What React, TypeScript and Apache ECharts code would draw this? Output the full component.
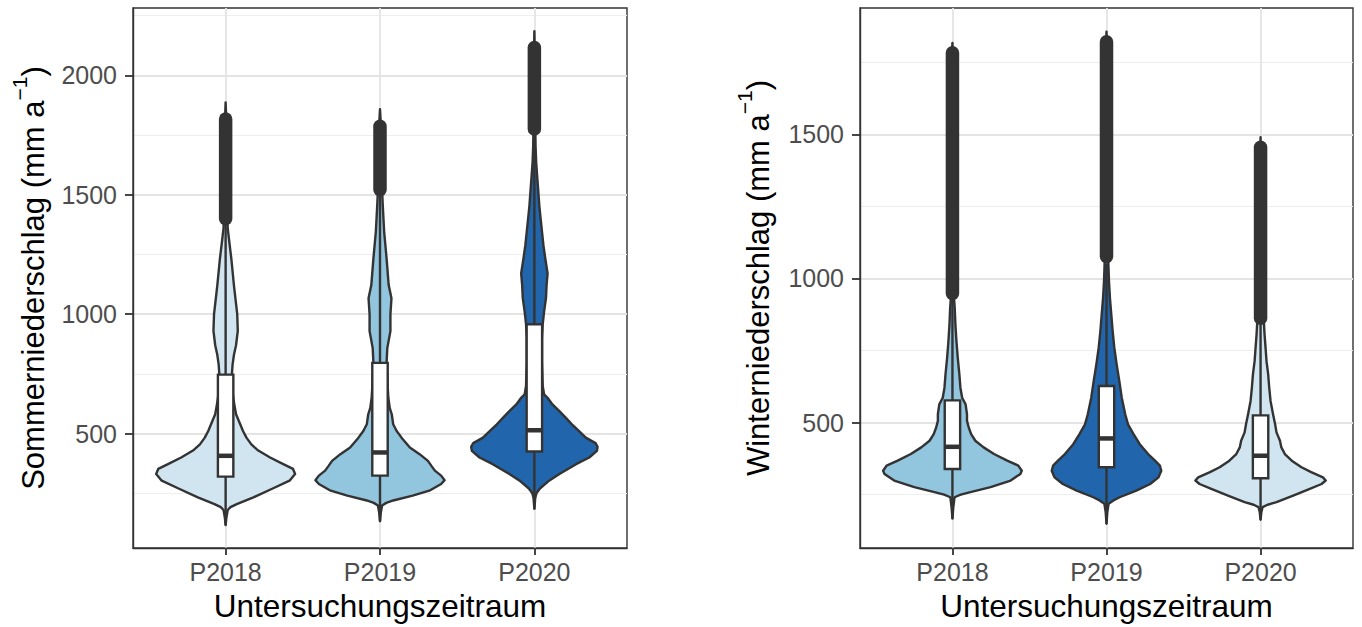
import React, { useEffect, useRef } from "react";
import * as echarts from "echarts";

// ---------------- data ----------------
const categories = ["P2018", "P2019", "P2020"];

// Sommerniederschlag (left panel)
const summerYMin = 21;
const summerYMax = 2282;
const summerTicks = [500, 1000, 1500, 2000];
const summerMinorTicks = [250, 750, 1250, 1750, 2250];
const summerQ1 = [320, 324, 425];
const summerMedian = [407, 421, 514];
const summerQ3 = [747, 796, 958];
const summerLowerWhisker = [117, 133, 185];
const summerUpperWhisker = [1390, 1505, 1760];
const summerOutlierLow = [1400, 1521, 1775];
const summerOutlierHigh = [1817, 1787, 2117];
// violin profiles: [value, relative half-width]
const summerViolin2018 = [[117, 0], [150, 0.012], [180, 0.03], [192, 0.07], [205, 0.16], [233, 0.4], [269, 0.67], [303, 0.92], [331, 1.0], [352, 0.97], [372, 0.83], [400, 0.64], [429, 0.47], [455, 0.37], [483, 0.3], [511, 0.25], [539, 0.21], [581, 0.15], [622, 0.125], [650, 0.11], [706, 0.09], [747, 0.09], [789, 0.1], [830, 0.12], [870, 0.15], [930, 0.175], [1000, 0.167], [1120, 0.12], [1230, 0.083], [1317, 0.047], [1360, 0.03], [1450, 0.018], [1600, 0.014], [1800, 0.011], [1887, 0]];
const summerViolin2019 = [[133, 0], [170, 0.012], [199, 0.03], [210, 0.09], [220, 0.19], [240, 0.47], [261, 0.71], [289, 0.88], [305, 0.93], [324, 0.88], [345, 0.79], [365, 0.74], [386, 0.69], [414, 0.57], [442, 0.43], [483, 0.31], [511, 0.24], [539, 0.19], [580, 0.17], [608, 0.14], [650, 0.12], [700, 0.11], [750, 0.1], [796, 0.095], [858, 0.105], [929, 0.15], [1000, 0.15], [1067, 0.165], [1122, 0.125], [1233, 0.095], [1345, 0.06], [1455, 0.04], [1520, 0.03], [1650, 0.017], [1800, 0.011], [1858, 0]];
const summerViolin2020 = [[185, 0], [230, 0.012], [250, 0.03], [270, 0.08], [300, 0.2], [331, 0.36], [372, 0.6], [400, 0.79], [428, 0.9], [445, 0.91], [460, 0.88], [483, 0.74], [511, 0.64], [539, 0.54], [567, 0.45], [594, 0.36], [622, 0.26], [650, 0.19], [664, 0.14], [700, 0.12], [800, 0.11], [900, 0.11], [958, 0.12], [1011, 0.14], [1067, 0.167], [1122, 0.176], [1171, 0.19], [1233, 0.157], [1289, 0.13], [1345, 0.11], [1400, 0.09], [1455, 0.071], [1511, 0.057], [1567, 0.043], [1636, 0.026], [1705, 0.017], [1800, 0.012], [2000, 0.01], [2185, 0]];

// Winterniederschlag (right panel)
const winterYMin = 65;
const winterYMax = 1938;
const winterTicks = [500, 1000, 1500];
const winterMinorTicks = [250, 750, 1250, 1750];
const winterQ1 = [339, 345, 307];
const winterMedian = [416, 445, 385];
const winterQ3 = [577, 627, 525];
const winterLowerWhisker = [167, 149, 163];
const winterUpperWhisker = [934, 1050, 852];
const winterOutlierLow = [948, 1076, 862];
const winterOutlierHigh = [1783, 1821, 1455];
const winterViolin2018 = [[167, 0], [205, 0.012], [241, 0.03], [250, 0.12], [259, 0.26], [276, 0.55], [299, 0.84], [322, 0.98], [333, 1.0], [351, 0.95], [368, 0.79], [391, 0.6], [414, 0.45], [437, 0.33], [460, 0.27], [483, 0.235], [506, 0.21], [529, 0.21], [563, 0.19], [586, 0.14], [621, 0.115], [667, 0.1], [724, 0.077], [782, 0.058], [839, 0.043], [897, 0.033], [925, 0.025], [1000, 0.018], [1200, 0.014], [1500, 0.011], [1780, 0.008], [1817, 0]];
const winterViolin2019 = [[149, 0], [190, 0.012], [218, 0.03], [230, 0.1], [241, 0.19], [264, 0.43], [287, 0.63], [310, 0.75], [333, 0.79], [351, 0.77], [368, 0.7], [391, 0.6], [425, 0.48], [460, 0.39], [494, 0.31], [529, 0.27], [586, 0.22], [644, 0.185], [701, 0.147], [759, 0.113], [816, 0.089], [873, 0.07], [931, 0.05], [989, 0.036], [1046, 0.028], [1200, 0.016], [1500, 0.012], [1800, 0.008], [1856, 0]];
const winterViolin2020 = [[163, 0], [190, 0.012], [207, 0.03], [215, 0.1], [224, 0.23], [247, 0.47], [270, 0.71], [287, 0.88], [299, 0.94], [310, 0.9], [328, 0.73], [345, 0.59], [368, 0.45], [391, 0.35], [414, 0.3], [437, 0.28], [466, 0.23], [494, 0.21], [529, 0.18], [575, 0.144], [621, 0.125], [667, 0.11], [713, 0.086], [759, 0.072], [804, 0.058], [839, 0.05], [900, 0.035], [1100, 0.02], [1300, 0.013], [1490, 0]];

const summerColors = ["#d1e5f0", "#92c5de", "#2166ac"];
const winterColors = ["#92c5de", "#2166ac", "#d1e5f0"];

// ---------------- styling ----------------
const FONT = "'Liberation Sans', Arial, Helvetica, sans-serif";
const OUTLINE = "#333333";
const HALF = 0.45;
const BOX_HALF = 0.05;
const LW = 2.4;

type Stats = {
  profiles: number[][][];
  q1: number[];
  med: number[];
  q3: number[];
  lw: number[];
  uw: number[];
  olo: number[];
  ohi: number[];
  colors: string[];
};

function makeRenderer(s: Stats) {
  return (params: any, api: any) => {
    const i = api.value(0);
    const prof = s.profiles[i];
    const pts: number[][] = [];
    for (const [v, w] of prof) pts.push(api.coord([i + w * HALF, v]));
    for (let k = prof.length - 1; k >= 0; k--) {
      const [v, w] = prof[k];
      pts.push(api.coord([i - w * HALF, v]));
    }
    const cx = api.coord([i, s.med[i]])[0];
    const y = (v: number) => api.coord([i, v])[1];
    const bl = api.coord([i - BOX_HALF, s.med[i]])[0];
    const br = api.coord([i + BOX_HALF, s.med[i]])[0];
    return {
      type: "group",
      children: [
        {
          type: "polygon",
          shape: { points: pts },
          style: { fill: s.colors[i], stroke: OUTLINE, lineWidth: LW, lineJoin: "round" },
        },
        {
          type: "line",
          shape: { x1: cx, y1: y(s.lw[i]), x2: cx, y2: y(s.q1[i]) },
          style: { stroke: OUTLINE, lineWidth: LW },
        },
        {
          type: "line",
          shape: { x1: cx, y1: y(s.q3[i]), x2: cx, y2: y(s.uw[i]) },
          style: { stroke: OUTLINE, lineWidth: LW },
        },
        {
          type: "rect",
          shape: { x: bl, y: y(s.q3[i]), width: br - bl, height: y(s.q1[i]) - y(s.q3[i]) },
          style: { fill: "#ffffff", stroke: OUTLINE, lineWidth: LW },
        },
        {
          type: "line",
          shape: { x1: bl, y1: y(s.med[i]), x2: br, y2: y(s.med[i]) },
          style: { stroke: OUTLINE, lineWidth: 4.5 },
        },
        {
          type: "line",
          shape: { x1: cx, y1: y(s.olo[i]), x2: cx, y2: y(s.ohi[i]) },
          style: { stroke: OUTLINE, lineWidth: 13.5, lineCap: "round" },
        },
      ],
    };
  };
}

const majorGrid = { show: true, lineStyle: { color: "#e4e4e4", width: 1.8 } };
const minorGrid = { show: true, lineStyle: { color: "#eeeeee", width: 1.1 } };
const catIdx = categories.map((_, i) => i);

function xAxisCfg(gridIndex: number) {
  return {
    gridIndex,
    type: "value",
    min: -0.6,
    max: 2.6,
    axisLine: { show: true, lineStyle: { color: OUTLINE, width: 1.4 } },
    axisTick: { show: true, customValues: catIdx, length: 7, lineStyle: { color: OUTLINE, width: 1.8 } },
    axisLabel: {
      customValues: catIdx,
      formatter: (v: number) => categories[Math.round(v)],
      margin: 11,
      fontSize: 25,
      fontFamily: FONT,
      color: "#4d4d4d",
    },
    splitLine: majorGrid,
    name: "Untersuchungszeitraum",
    nameLocation: "middle",
    nameGap: 42,
    nameTextStyle: { fontSize: 31.5, fontFamily: FONT, color: "#000000" },
  };
}

function yTitle(word: string) {
  return "{t|" + word + " (mm a}{s|\u22121}{t|)}";
}

function yAxisMain(gridIndex: number, min: number, max: number, ticks: number[], title: string, gap: number) {
  return {
    gridIndex,
    type: "value",
    min,
    max,
    position: "left",
    axisLine: { show: true, lineStyle: { color: OUTLINE, width: 1.4 } },
    axisTick: { show: true, customValues: ticks, length: 8, lineStyle: { color: OUTLINE, width: 1.8 } },
    axisLabel: {
      customValues: ticks,
      formatter: (v: number) => String(v),
      margin: 16,
      fontSize: 25,
      fontFamily: FONT,
      color: "#4d4d4d",
    },
    splitLine: majorGrid,
    name: yTitle(title),
    nameLocation: "middle",
    nameRotate: 90,
    nameGap: gap,
    nameTextStyle: {
      fontSize: 31,
      fontFamily: FONT,
      color: "#000000",
      rich: {
        t: { fontSize: 31, fontFamily: FONT, color: "#000000", lineHeight: 40, verticalAlign: "bottom" },
        s: { fontSize: 21, fontFamily: FONT, color: "#000000", lineHeight: 21, verticalAlign: "top" },
      },
    },
  };
}

function yAxisMinor(gridIndex: number, min: number, max: number, ticks: number[]) {
  return {
    gridIndex,
    type: "value",
    min,
    max,
    position: "left",
    axisLine: { show: false },
    axisTick: { show: false, customValues: ticks },
    axisLabel: { show: false, customValues: ticks },
    splitLine: minorGrid,
  };
}

const summerStats: Stats = {
  profiles: [summerViolin2018, summerViolin2019, summerViolin2020],
  q1: summerQ1,
  med: summerMedian,
  q3: summerQ3,
  lw: summerLowerWhisker,
  uw: summerUpperWhisker,
  olo: summerOutlierLow,
  ohi: summerOutlierHigh,
  colors: summerColors,
};
const winterStats: Stats = {
  profiles: [winterViolin2018, winterViolin2019, winterViolin2020],
  q1: winterQ1,
  med: winterMedian,
  q3: winterQ3,
  lw: winterLowerWhisker,
  uw: winterUpperWhisker,
  olo: winterOutlierLow,
  ohi: winterOutlierHigh,
  colors: winterColors,
};

const option: any = {
  animation: false,
  backgroundColor: "#ffffff",
  grid: [
    { left: 133, top: 8, width: 494, height: 543, show: true, borderColor: OUTLINE, borderWidth: 1.4, backgroundColor: "#ffffff" },
    { left: 860, top: 8, width: 493, height: 543, show: true, borderColor: OUTLINE, borderWidth: 1.4, backgroundColor: "#ffffff" },
  ],
  xAxis: [xAxisCfg(0), xAxisCfg(1)],
  yAxis: [
    yAxisMinor(0, summerYMin, summerYMax, summerMinorTicks),
    yAxisMain(0, summerYMin, summerYMax, summerTicks, "Sommerniederschlag", 84),
    yAxisMinor(1, winterYMin, winterYMax, winterMinorTicks),
    yAxisMain(1, winterYMin, winterYMax, winterTicks, "Winterniederschlag", 86),
  ],
  series: [
    {
      type: "custom",
      xAxisIndex: 0,
      yAxisIndex: 1,
      renderItem: makeRenderer(summerStats),
      data: catIdx.map((i) => [i]),
      clip: false,
      z: 5,
    },
    {
      type: "custom",
      xAxisIndex: 1,
      yAxisIndex: 3,
      renderItem: makeRenderer(winterStats),
      data: catIdx.map((i) => [i]),
      clip: false,
      z: 5,
    },
  ],
};

export default function App() {
  const ref = useRef<HTMLDivElement>(null);
  useEffect(() => {
    const chart = echarts.init(ref.current as HTMLDivElement, null, { renderer: "svg" });
    chart.setOption(option);
    return () => chart.dispose();
  }, []);
  return (
    <div
      ref={ref}
      style={{ position: "fixed", left: 0, top: 0, width: 1362, height: 627, background: "#ffffff" }}
    />
  );
}
